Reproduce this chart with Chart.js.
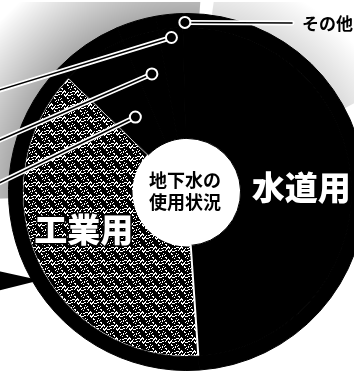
<!DOCTYPE html>
<html lang="ja">
<head>
<meta charset="utf-8">
<title>地下水の使用状況</title>
<script src="https://cdn.jsdelivr.net/npm/chart.js@4.4.1/dist/chart.umd.min.js"></script>
<style>
  html, body { margin:0; padding:0; background:#fff; }
  body { width:354px; height:376px; overflow:hidden; position:relative; }
  #wrap { position:absolute; left:-3px; top:2px; width:380px; height:380px; }
</style>
</head>
<body>
<div id="wrap"><canvas id="pie"></canvas></div>
<script>
// 用途別の割合（%）— 画像から読み取り
const categories = ['水道用', '工業用', '建築物用', '農業用', '養魚用', 'その他'];
const shares     = [48.9, 38.3, 6.4, 3.6, 2.4, 0.4];

const GroundwaterPie = (() => {
  const CENTER_LINES = ['地下水の', '使用状況'];
  const FONT = '"Noto Sans CJK JP", "Noto Sans", sans-serif';

  // 網かけ（工業用）のパターン — 固定の式で点を散らす
  function _stipple() {
    const n = 13;
    const c = document.createElement('canvas');
    c.width = n; c.height = n;
    const g = c.getContext('2d');
    g.fillStyle = '#000';
    g.fillRect(0, 0, n, n);
    g.fillStyle = '#fff';
    for (let y = 0; y < n; y++) {
      for (let x = 0; x < n; x++) {
        if ((x * x * 5 + y * y * 3 + x * y * 7 + x + 2 * y) % 13 < 3) g.fillRect(x, y, 1, 1);
      }
    }
    return g.createPattern(c, 'repeat');
  }

  // 引き出し線の配置（ラベルは図の外）
  const callouts = [
    { index: 2, r: 0.51, endX: -4, endY: 184 },
    { index: 3, r: 0.69, endX: -4, endY: 141 },
    { index: 4, r: 0.87, endX: -4, endY: 90 },
    { index: 5, r: 0.95, endX: 295, endY: 21, text: true }
  ];
  // 白抜きの大きな文字
  const bigLabels = [
    { index: 0, angle: 87.5, r: 0.64 },
    { index: 1, angle: 250, r: 0.615 }
  ];
  // 背景の網点のにじみ（角度範囲と濃さ）
  const halos = [
    { from: 268, to: 364, alpha: 0.34, width: 75 },
    { from: 8, to: 62, alpha: 0.14, width: 45 }
  ];

  function _pt(arc, deg, rad) {
    const a = (deg - 90) * Math.PI / 180;
    return { x: arc.x + Math.cos(a) * rad, y: arc.y + Math.sin(a) * rad };
  }

  const halo = {
    id: 'halo',
    beforeDatasetsDraw(chart) {
      const ctx = chart.ctx;
      const outer = chart.getDatasetMeta(0).data[0];
      const R = outer.outerRadius;
      ctx.save();
      halos.forEach(h => {
        const a0 = (h.from - 90) * Math.PI / 180;
        const a1 = (h.to - 90) * Math.PI / 180;
        const grad = ctx.createRadialGradient(outer.x, outer.y, R - 2, outer.x, outer.y, R + h.width);
        grad.addColorStop(0, `rgba(0,0,0,${h.alpha})`);
        grad.addColorStop(1, 'rgba(0,0,0,0)');
        ctx.fillStyle = grad;
        ctx.beginPath();
        ctx.arc(outer.x, outer.y, R + h.width, a0, a1);
        ctx.arc(outer.x, outer.y, R - 2, a1, a0, true);
        ctx.closePath();
        ctx.fill();
      });
      ctx.restore();
    }
  };

  const overlay = {
    id: 'overlay',
    afterDatasetsDraw(chart) {
      const ctx = chart.ctx;
      const arcs = chart.getDatasetMeta(1).data;
      const outer = chart.getDatasetMeta(0).data[0];
      const R = outer.outerRadius;
      ctx.save();

      // 左下の黒い矢印
      const tip = _pt(outer, 239, R * 0.96);
      ctx.fillStyle = '#000';
      ctx.beginPath();
      ctx.moveTo(-4, 268);
      ctx.lineTo(tip.x, tip.y);
      ctx.lineTo(-4, 290);
      ctx.closePath();
      ctx.fill();

      // 引き出し線
      callouts.forEach(c => {
        const arc = arcs[c.index];
        const mid = (arc.startAngle + arc.endAngle) / 2 * 180 / Math.PI + 90;
        const p = _pt(arc, mid, R * c.r);
        ctx.lineCap = 'round';
        ctx.strokeStyle = '#fff';
        ctx.lineWidth = 5;
        ctx.beginPath(); ctx.moveTo(p.x, p.y); ctx.lineTo(c.endX, c.endY); ctx.stroke();
        ctx.strokeStyle = '#000';
        ctx.lineWidth = 1.6;
        ctx.beginPath(); ctx.moveTo(p.x, p.y); ctx.lineTo(c.endX, c.endY); ctx.stroke();
        ctx.fillStyle = '#000';
        ctx.strokeStyle = '#fff';
        ctx.lineWidth = 2;
        ctx.beginPath(); ctx.arc(p.x, p.y, 5.5, 0, Math.PI * 2); ctx.fill(); ctx.stroke();
        if (c.text) {
          ctx.fillStyle = '#000';
          ctx.font = `bold 17px ${FONT}`;
          ctx.textAlign = 'left';
          ctx.textBaseline = 'middle';
          ctx.fillText(chart.data.labels[c.index], c.endX + 10, c.endY + 1);
        }
      });

      // 水道用・工業用
      ctx.font = `900 33px ${FONT}`;
      ctx.textAlign = 'center';
      ctx.textBaseline = 'middle';
      ctx.lineJoin = 'round';
      bigLabels.forEach(l => {
        const p = _pt(outer, l.angle, R * l.r);
        ctx.strokeStyle = '#000';
        ctx.lineWidth = 3;
        ctx.strokeText(chart.data.labels[l.index], p.x, p.y);
        ctx.fillStyle = '#fff';
        ctx.fillText(chart.data.labels[l.index], p.x, p.y);
      });

      // 中央の文字
      ctx.fillStyle = '#000';
      ctx.font = `bold 18px ${FONT}`;
      ctx.fillText(CENTER_LINES[0], outer.x - 2, outer.y - 12);
      ctx.fillText(CENTER_LINES[1], outer.x - 2, outer.y + 10);
      ctx.restore();
    }
  };

  function render() {
    const pattern = _stipple();
    const black = '#000';
    new Chart(document.getElementById('pie'), {
      type: 'doughnut',
      data: {
        labels: categories,
        datasets: [
          {
            // 外周の黒い縁
            data: shares,
            backgroundColor: black,
            borderColor: black,
            borderWidth: 1,
            weight: 14
          },
          {
            data: shares,
            backgroundColor: shares.map((_, i) => i === 1 ? pattern : black),
            borderColor: shares.map((_, i) => i === 1 ? '#fff' : black),
            borderWidth: shares.map((_, i) => i === 1 ? 2 : 1),
            weight: 112
          }
        ]
      },
      options: {
        responsive: true,
        maintainAspectRatio: false,
        animation: false,
        cutout: '30%',
        layout: { padding: 11 },
        plugins: { legend: { display: false }, tooltip: { enabled: false } }
      },
      plugins: [halo, overlay]
    });
  }

  return { render };
})();

GroundwaterPie.render();
</script>
</body>
</html>
